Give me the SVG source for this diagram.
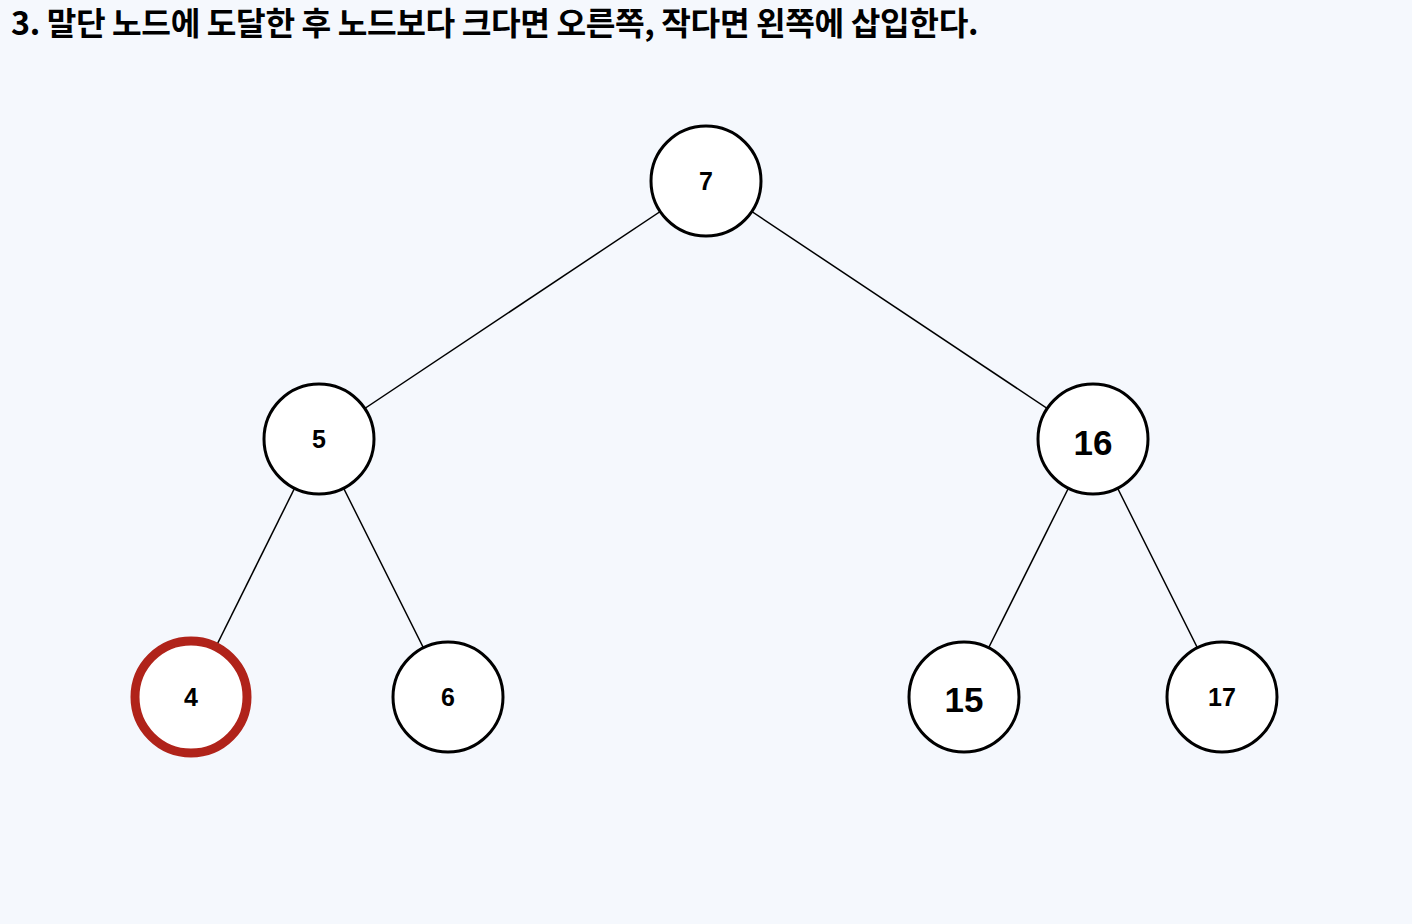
<svg xmlns="http://www.w3.org/2000/svg" width="1412" height="924" viewBox="0 0 1412 924">
<style>
.title{font-family:"Noto Sans CJK KR","Noto Sans",sans-serif;font-weight:700;font-size:32px;fill:#000;letter-spacing:-0.4px}
.edge{stroke:#000;stroke-width:1.5;fill:none}
.node circle{fill:#fff;stroke:#000;stroke-width:3}
.node.hl circle{stroke:#b0231a;stroke-width:9}
.lbl{font-family:"Liberation Sans",Arial,sans-serif;font-weight:700;font-size:25px;fill:#000;text-anchor:middle;dominant-baseline:central}
.lbl.big{font-size:35px}
</style>
<rect width="1412" height="924" fill="#f5f8fd"/>
<text class="title" x="11" y="35" textLength="967" lengthAdjust="spacingAndGlyphs">3. 말단 노드에 도달한 후 노드보다 크다면 오른쪽, 작다면 왼쪽에 삽입한다.</text>
<g id="edges">
<line class="edge" x1="706" y1="181" x2="319" y2="439"/>
<line class="edge" x1="706" y1="181" x2="1093" y2="439"/>
<line class="edge" x1="319" y1="439" x2="191" y2="697"/>
<line class="edge" x1="319" y1="439" x2="448" y2="697"/>
<line class="edge" x1="1093" y1="439" x2="964" y2="697"/>
<line class="edge" x1="1093" y1="439" x2="1222" y2="697"/>
</g>
<g id="n7" class="node"><circle cx="706" cy="181" r="55"/><text class="lbl" x="706" y="181">7</text></g>
<g id="n5" class="node"><circle cx="319" cy="439" r="55"/><text class="lbl" x="319" y="439">5</text></g>
<g id="n16" class="node"><circle cx="1093" cy="439" r="55"/><text class="lbl big" x="1093" y="442">16</text></g>
<g id="n4" class="node hl"><circle cx="191" cy="697" r="56"/><text class="lbl" x="191" y="697">4</text></g>
<g id="n6" class="node"><circle cx="448" cy="697" r="55"/><text class="lbl" x="448" y="697">6</text></g>
<g id="n15" class="node"><circle cx="964" cy="697" r="55"/><text class="lbl big" x="964" y="699">15</text></g>
<g id="n17" class="node"><circle cx="1222" cy="697" r="55"/><text class="lbl" x="1222" y="697">17</text></g>
</svg>
